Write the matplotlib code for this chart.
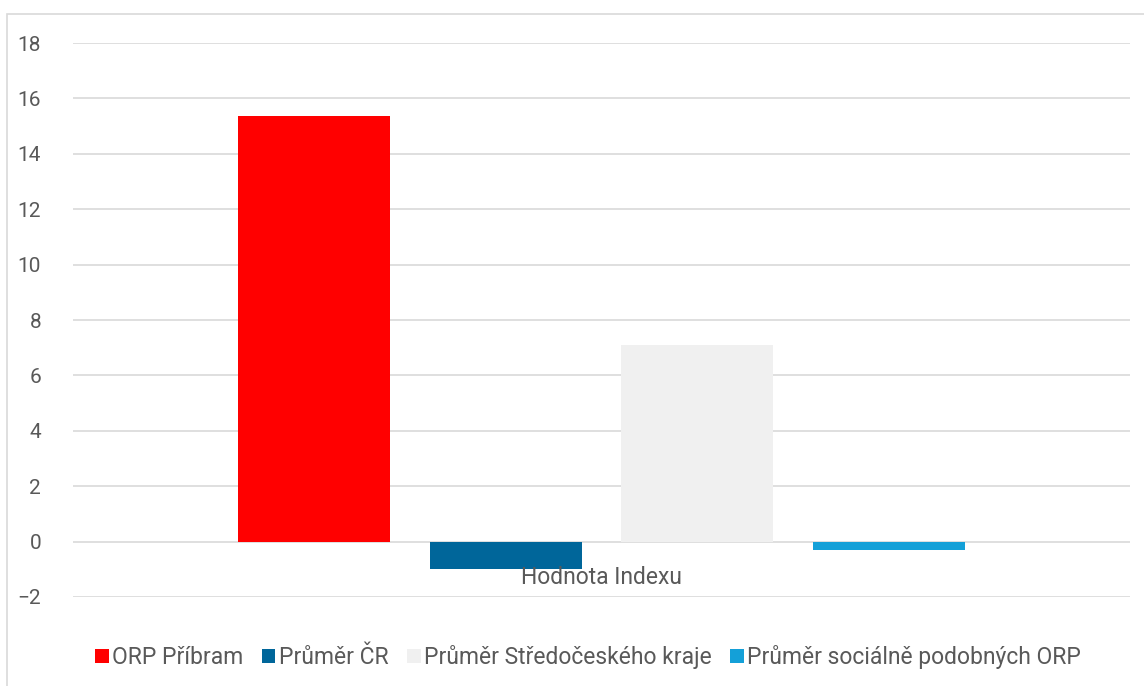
import matplotlib
matplotlib.use('Agg')
import matplotlib.pyplot as plt
from matplotlib.patches import Rectangle

# Data
category = ['Hodnota Indexu']
series = ['ORP Příbram', 'Průměr ČR', 'Průměr Středočeského kraje', 'Průměr sociálně podobných ORP']
values = [15.35, -1.0, 7.08, -0.3]
colors = ['#ff0000', '#00669a', '#f0f0f0', '#14a0d8']
y_ticks = [-2, 0, 2, 4, 6, 8, 10, 12, 14, 16, 18]

plt.rcParams['font.family'] = ['Roboto', 'DejaVu Sans']
W, H = 1144, 686
fig = plt.figure(figsize=(W / 100, H / 100), dpi=100)
ax = fig.add_axes([73 / W, (H - 597) / H, (1130 - 73) / W, (597 - 43) / H])

# chart border
fig.patches.append(Rectangle((7 / W, -0.1), 1.2, (H - 14) / H + 0.1, transform=fig.transFigure,
                             fill=False, edgecolor='#d9d9d9', linewidth=1.2))

width = 0.1438
step = 0.1816
for i, (name, v, c) in enumerate(zip(series, values, colors)):
    ax.bar(0 + (i - 1.5) * step, v, width=width, color=c, label=name, zorder=3)

ax.set_xlim(-0.5, 0.5)
ax.set_ylim(-2, 18)
ax.set_yticks(y_ticks)
ax.set_xticks([0])
ax.set_xticklabels(category)
ax.grid(axis='y', color='#d9d9d9', linewidth=1.2, zorder=0)
ax.xaxis.set_zorder(4)
for s in ax.spines.values():
    s.set_visible(False)
ax.tick_params(axis='y', length=0, pad=23, labelsize=15, labelcolor='#595959')
ax.tick_params(axis='x', length=0, pad=-22, labelsize=16.5, labelcolor='#595959')

fig.legend(loc='center', bbox_to_anchor=(588 / W, (H - 657) / H), ncol=4, frameon=False,
           fontsize=16.5, labelcolor='#595959', handlelength=0.6, handleheight=0.6,
           handletextpad=0.15, columnspacing=0.8, borderaxespad=0)

fig.savefig('out.png', dpi=100)
